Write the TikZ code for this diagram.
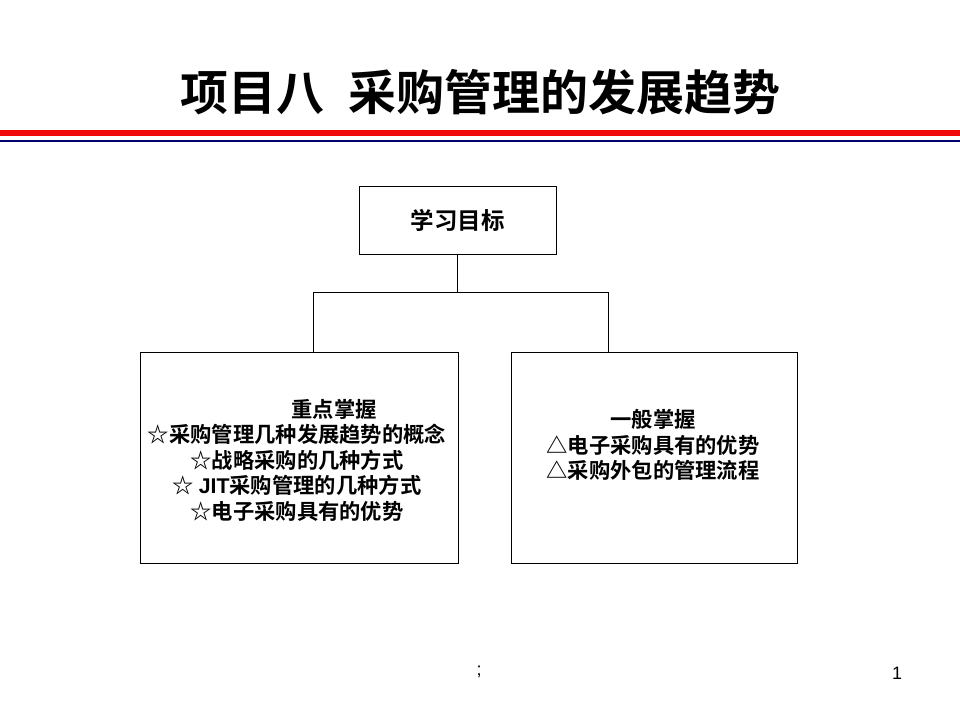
\documentclass[tikz,border=0pt]{standalone}
\usepackage{fontspec}
\setmainfont{Liberation Sans}
\newfontfamily\cjk{Noto Sans CJK SC}[BoldFont={Noto Sans CJK SC Bold}]
\usepackage{tikz}
\definecolor{rulered}{RGB}{240,10,10}
\definecolor{rulenavy}{RGB}{0,0,110}

\begin{document}
\begin{tikzpicture}[x=1pt,y=-1pt,
    box_node/.style={draw,line width=0.9pt,inner sep=0pt},
    text_node/.style={align=center,font=\cjk\bfseries\fontsize{21.3}{25.5}\selectfont}]

    \useasboundingbox (0,0) rectangle (960,720);

    % title and rules
    \node (title) at (480,92) {\cjk\bfseries\fontsize{48}{56}\selectfont 项目八\hspace{0.5em}采购管理的发展趋势};
    \fill[rulered] (0,130) rectangle (960,136);
    \fill[rulenavy] (0,140) rectangle (960,142);

    \node[box_node,minimum width=197pt,minimum height=68pt] (goal) at (457.5,220) {};
    \node[text_node,font=\cjk\bfseries\fontsize{23.5}{26}\selectfont] (goaltxt) at (457.5,220) {学习目标};
    \node[box_node,minimum width=318pt,minimum height=211pt] (key) at (299,457.5) {};
    \node[box_node,minimum width=286pt,minimum height=211pt] (general) at (654,457.5) {};

    \node[text_node] (keytxt) at (297,460) {\hspace*{3.5em}重点掌握\\
        ☆采购管理几种发展趋势的概念\\
        ☆战略采购的几种方式\\
        ☆ {\rmfamily JIT}采购管理的几种方式\\
        ☆电子采购具有的优势};
    \node[text_node] (generaltxt) at (653,445) {一般掌握\\
        △电子采购具有的优势\\
        △采购外包的管理流程};

    \coordinate (fork) at (457.5,292);
    \coordinate (forkL) at (313,292);
    \coordinate (forkR) at (608,292);
    \draw[line width=0.9pt] (goal.south) -- (fork);
    \draw[line width=0.9pt] (forkL) -- (forkR);
    \draw[line width=0.9pt] (forkL) -- (forkL |- key.north);
    \draw[line width=0.9pt] (forkR) -- (forkR |- general.north);

    % footer
    \node[font=\fontsize{18}{20}\selectfont] (note) at (479,672) {;};
    \node[font=\fontsize{18}{20}\selectfont] (page) at (897,673) {1};
\end{tikzpicture}
\end{document}
